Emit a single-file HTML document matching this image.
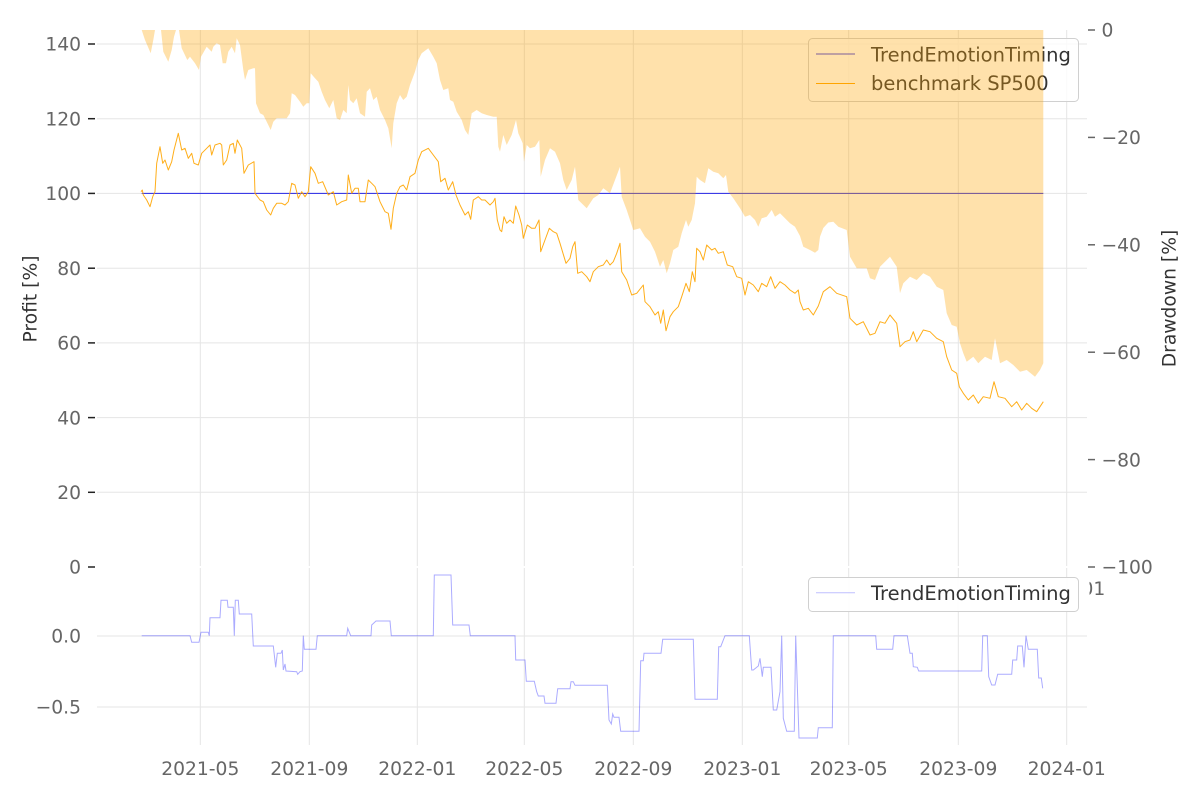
<!DOCTYPE html>
<html><head><meta charset="utf-8"><style>
html,body{margin:0;padding:0;background:#fff;}
svg{display:block;}
text{font-family:"DejaVu Sans","Liberation Sans",sans-serif;font-size:18.7px;}
.tl{fill:#666;}
.al{fill:#333;}
.lg{font-size:19.5px;}
</style></head><body>
<svg width="1200" height="800" viewBox="0 0 1200 800" xmlns="http://www.w3.org/2000/svg">
<rect x="0" y="0" width="1200" height="800" fill="#fff"/>
<defs><clipPath id="c01"><rect x="1089.5" y="570" width="40" height="30"/></clipPath></defs>
<!-- grids top -->
<g stroke="#e5e5e5" stroke-width="1" fill="none">
<line x1="97" x2="1087" y1="44" y2="44"/>
<line x1="97" x2="1087" y1="118.7" y2="118.7"/>
<line x1="97" x2="1087" y1="193.4" y2="193.4"/>
<line x1="97" x2="1087" y1="268.2" y2="268.2"/>
<line x1="97" x2="1087" y1="342.9" y2="342.9"/>
<line x1="97" x2="1087" y1="417.6" y2="417.6"/>
<line x1="97" x2="1087" y1="492.3" y2="492.3"/>
<line x1="200.3" x2="200.3" y1="30" y2="566"/>
<line x1="309.3" x2="309.3" y1="30" y2="566"/>
<line x1="417.3" x2="417.3" y1="30" y2="566"/>
<line x1="524.3" x2="524.3" y1="30" y2="566"/>
<line x1="633.3" x2="633.3" y1="30" y2="566"/>
<line x1="742.3" x2="742.3" y1="30" y2="566"/>
<line x1="848.7" x2="848.7" y1="30" y2="566"/>
<line x1="958.3" x2="958.3" y1="30" y2="566"/>
<line x1="1066.7" x2="1066.7" y1="30" y2="566"/>
<!-- bottom -->
<line x1="97" x2="1087" y1="636" y2="636"/>
<line x1="97" x2="1087" y1="707" y2="707"/>
<line x1="200.3" x2="200.3" y1="568" y2="745"/>
<line x1="309.3" x2="309.3" y1="568" y2="745"/>
<line x1="417.3" x2="417.3" y1="568" y2="745"/>
<line x1="524.3" x2="524.3" y1="568" y2="745"/>
<line x1="633.3" x2="633.3" y1="568" y2="745"/>
<line x1="742.3" x2="742.3" y1="568" y2="745"/>
<line x1="848.7" x2="848.7" y1="568" y2="745"/>
<line x1="958.3" x2="958.3" y1="568" y2="745"/>
<line x1="1066.7" x2="1066.7" y1="568" y2="745"/>
</g>
<!-- left ticks -->
<g stroke="#222" stroke-width="1.5">
<line x1="88" x2="95" y1="44" y2="44"/>
<line x1="88" x2="95" y1="118.7" y2="118.7"/>
<line x1="88" x2="95" y1="193.4" y2="193.4"/>
<line x1="88" x2="95" y1="268.2" y2="268.2"/>
<line x1="88" x2="95" y1="342.9" y2="342.9"/>
<line x1="88" x2="95" y1="417.6" y2="417.6"/>
<line x1="88" x2="95" y1="492.3" y2="492.3"/>
<line x1="88" x2="95" y1="567" y2="567"/>
</g>
<g stroke="#666" stroke-width="1.5">
<line x1="1088" x2="1095" y1="30" y2="30"/>
<line x1="1088" x2="1095" y1="137.4" y2="137.4"/>
<line x1="1088" x2="1095" y1="244.8" y2="244.8"/>
<line x1="1088" x2="1095" y1="352.2" y2="352.2"/>
<line x1="1088" x2="1095" y1="459.6" y2="459.6"/>
<line x1="1088" x2="1095" y1="567" y2="567"/>
</g>
<g class="tl" text-anchor="end">
<text x="81" y="50.7">140</text>
<text x="81" y="125.4">120</text>
<text x="81" y="200.1">100</text>
<text x="81" y="274.9">80</text>
<text x="81" y="349.6">60</text>
<text x="81" y="424.3">40</text>
<text x="81" y="499">20</text>
<text x="81" y="573.7">0</text>
<text x="81" y="642.7">0.0</text>
<text x="81" y="713.7">−0.5</text>
</g>
<g class="tl">
<text x="1101.5" y="36.7">0</text>
<text x="1101.5" y="144.1">−20</text>
<text x="1101.5" y="251.5">−40</text>
<text x="1101.5" y="358.9">−60</text>
<text x="1101.5" y="466.3">−80</text>
<text x="1101.5" y="573.7">−100</text>
<text x="1081.5" y="595" clip-path="url(#c01)">01</text>
</g>
<g class="tl" text-anchor="middle">
<text x="200.3" y="775">2021-05</text>
<text x="309.3" y="775">2021-09</text>
<text x="417.3" y="775">2022-01</text>
<text x="524.3" y="775">2022-05</text>
<text x="633.3" y="775">2022-09</text>
<text x="742.3" y="775">2023-01</text>
<text x="848.7" y="775">2023-05</text>
<text x="958.3" y="775">2023-09</text>
<text x="1066.7" y="775">2024-01</text>
</g>
<text class="al" text-anchor="middle" transform="translate(36.5,299) rotate(-90)">Profit [%]</text>
<text class="al" text-anchor="middle" transform="translate(1175.5,298.5) rotate(-90)">Drawdown [%]</text>

<!-- top series -->
<line x1="141.7" x2="1043.3" y1="193.4" y2="193.4" stroke="#3c3ce6" stroke-width="1.1"/>
<polyline fill="none" stroke="#ffa500" stroke-opacity="0.9" stroke-width="1" stroke-linejoin="round" points="141,191.7 142.3,190 143.3,195 146.7,200 150,206.7 152.7,196.7 155,191.7 156.7,163.3 160,146.7 162.7,163.3 165,160 168.3,170 171.7,161.7 174,150 178.3,133.3 181.7,150 185,148.3 188.3,158.3 191.7,153.3 194,163.3 198.3,165 201.7,153.3 206.7,148.3 210,145 211.7,155 215,145 220,143.3 221.7,145 223.3,165 226.7,160 230,145 233.3,143.3 235,153.3 237.3,140 241.7,148.3 244,173.3 248.3,165 254,161.7 255,193.3 260,200 263.3,201.7 266.7,210 270.7,215 273.3,208.3 276.7,203.3 281.7,203.3 285,205 288.3,201.7 291.7,183.3 295,185 298.3,198.3 301.7,191.7 305,196.7 308.3,191.7 310.7,166.7 315,173.3 318.3,183.3 322.7,181.7 328.3,195 333.3,191.7 336.7,205 341.7,201.7 346.7,200 348.3,175 351.7,193.3 355,188.3 358.3,188.3 360,201.7 365,201.7 368.3,180 371.7,183.3 375,186.7 380,201.7 385,211.7 388.3,213.3 391,229.3 393.3,208.3 396.7,193.3 400,186.7 403.3,185 406.7,190 410,176.7 415,173.3 418.3,160 421.7,151.7 428.3,148.3 433.3,155 438.3,161.7 440.7,181.7 445,178.3 448.3,190 452.7,181.7 456,195 460,205 465,215 468.3,211.7 470.7,219.3 473.3,200 478.3,196.7 481.7,200 485,200 490,205 493.3,201.7 495,198.3 497.3,220 500,230 501.7,231.7 504,216.7 506.7,223.3 510,220 513.3,223.3 515.7,206 519,215 521.7,225 523.3,238.3 527.3,225 531.7,228.3 535,228.3 539,220 540.7,251.7 545,240 549.3,228.3 553.3,231.7 556.7,233.3 560,243.3 564,256.7 566,263.3 570,258.3 572.7,246.7 575,241.7 577.7,273.3 581.7,271.7 586.7,276.7 590,281.7 593.3,271.7 598.3,266.7 603.3,265 606.7,260 610,265 613.3,261.7 616.7,253.3 620,243.3 621.7,271.7 626.7,280 631.7,295 636.7,293.3 643.3,285 645,301.7 650,306.7 655,315 658.3,311.7 660.7,323.3 663.3,310 666,330.7 670,316.7 673.3,311.7 678.3,306.7 681.7,296.7 686,283.3 689.3,291.7 692.3,271.7 695,281.7 696.7,248.3 700,251.7 703.3,260 706.7,245 711.7,250 715,248.3 718.3,253.3 723.3,251.7 727.3,265 732.7,266.7 736.7,276.7 741.7,278.3 745,295 748.3,281.7 753.3,285 758.3,291.7 761.7,283.3 766.7,286.7 770.7,276.7 775,288.3 780,281.7 785,285 790,290 795,293.3 798.3,290 800,301.7 803.3,310 808.3,308.3 813.3,315 818.3,306 823.3,291.7 830,286.7 836.7,293.3 846.7,296.7 850,318.3 856.7,325 863.3,321.7 870,335 875,333.3 880,321.7 885,323.3 890,315 896.7,323.3 900,346.7 905,341.7 910,340 913.3,331.7 916.7,341.7 923.3,330 930,331.7 936.7,338.3 943.3,341.7 946.7,356.7 951.7,370 956.7,373.3 959.3,386.7 963.3,393.3 968.3,400 973.3,395 978.3,403.3 983.3,396.7 990,398.3 994,381.7 998.3,396.7 1005,398.3 1011.7,406.7 1016.7,401.7 1021.7,410 1026.7,403.3 1031.7,408.3 1036.7,411.7 1040,406.7 1043.3,401.7"/>

<!-- top legend -->
<rect x="808.5" y="38.5" width="270" height="63" rx="4" ry="4" fill="#fff" fill-opacity="0.8" stroke="#d0d0d0" stroke-width="1"/>
<line x1="816" x2="855" y1="54" y2="54" stroke="#3c3ce6" stroke-width="1.1"/>
<line x1="816" x2="855" y1="83.5" y2="83.5" stroke="#ffa500" stroke-width="1"/>
<text class="lg" x="871" y="61.3" fill="#333">TrendEmotionTiming</text>
<text class="lg" x="871" y="90" fill="#333">benchmark SP500</text>

<!-- drawdown fill on top -->
<polygon fill="#ffa500" fill-opacity="0.33" points="141.7,30 145,40 150.7,53.3 153.3,40 155,30 161,30 163.3,51.7 168.3,61.7 171.7,50 174,36.7 176,30 179,30 181.7,48.3 187.3,60 190,56.7 195,63.3 199,70 201,56.7 206.7,46.7 211.7,51.7 213.3,46.7 216.7,43.3 220,45 222.7,63.3 226,63.3 228.3,51.7 231.7,46.7 235,53.3 236.7,38.3 240,45 243.3,70 245,80 248.3,70 253.3,68.3 255,68.3 256,103.3 260,113.3 263.3,115 266.7,121.7 270.7,130 273.3,121.7 276.7,118.3 281.7,118.3 286.7,118.3 290,113.3 291.7,93.3 295,95 300,101.7 303.3,106.7 306.7,103.3 309.3,103.3 310.7,73.3 315,78.3 318.3,81.7 321.7,91.7 325,100 329.3,108.3 333.3,100 336.7,118.3 340,120 343.3,110 346.7,113.3 348.3,85 350,100 353.3,103.3 356.7,98.3 360,113.3 365,116.7 366.7,91.7 370,88.3 373.3,100 376.7,96.7 380,110 385,120 388.3,128.3 391.7,148.3 393.3,123.3 396.7,103.3 400,95 403.3,100 406.7,96.7 410,85 415,71.7 418.3,60 421.7,53.3 428.3,48.3 433.3,56.7 436.7,63.3 440,80 443.3,90 448.3,88.3 450,100 453.3,101.7 456.7,111.7 461.7,120 465,130 468.3,135 471.7,113.3 476.7,110 481.7,113.3 486.7,115 493.3,116.7 496.7,116.7 498.3,146.7 500,151.7 503.3,135 506.7,145 511.7,135 516,120 518.3,133.3 522.7,143.3 524,161.7 526.7,145 530,148.3 535,146.7 539.3,140 540.7,176.7 545,160 550,148.3 555,151.7 560,163.3 563.3,180 566.7,190 571.7,180 575,166.7 578.3,200 586.7,208.3 593.3,198.3 598.3,195 603.3,188.3 610,193.3 615,180 620,166.7 621.7,196.7 626.7,210 633.3,230 640,228.3 645,236.7 650,241.7 655,251.7 660,266.7 663.3,260 666.7,273.3 670,263.3 673.3,250 678.3,246.7 681.7,233.3 686,220 688.3,226.7 691.7,220 695,203.3 696.7,176.7 700,180 705,183.3 708.3,168.3 713.3,171.7 718.3,173.3 723.3,178.3 726,175 728.3,191.7 733.3,198.3 740,208.3 745,216.7 750,215 755,220 758.3,226.7 761.7,218.3 766.7,216.7 771.7,210 775,216.7 780,213.3 785,218.3 790,223.3 795,226.7 800,236 803.3,246.7 810,250 815,252.7 818.3,250 820,236.7 823.3,228 828.3,222.5 833.3,221.7 838.3,226.7 846.7,230 850,256.7 856.7,268.3 866.7,268.3 870,278.3 875,280 880,266.7 890,256.7 896.7,266.7 900,293.3 903.3,283.3 910,276.7 916.7,280 923.3,273.3 930,276.7 936.7,286.7 943.3,290 946.7,313.3 951.7,325 956.7,326.7 960,343.3 963.3,353.3 966.7,361.7 973.3,356.7 978.3,363.3 985,356.7 991.7,360 995,338.3 1000,363.3 1006.7,360 1013.3,365 1020,371.7 1026.7,370 1035,376.7 1040,370 1043.3,363.3 1043.3,30"/>

<!-- bottom series -->
<polyline fill="none" stroke="#0000ff" stroke-opacity="0.33" stroke-width="1" points="141.7,635.7 190,635.7 191.7,642.3 199,642.3 201,632.3 208.3,632.3 209.3,635.7 210,617.7 220,617.7 221,600.3 227.3,600.3 228,607.3 233.3,607.3 234.3,635.7 235.3,600.3 238.3,600.3 239.3,614 251.7,614 253.3,646 273.3,646 275.7,667.3 277.3,653.3 281,653.3 282.3,650 283.3,670 285,664 286,671 296.7,671.7 297.7,674.3 300,671.7 302.3,671 303.3,635.7 304.3,649.3 316,649.3 317.3,635.7 346.7,635.7 347.7,628.3 350.7,635.7 371,635.7 371.7,625 376,621 390,621 391.3,635.7 433.3,635.7 434.3,575 451,575 452.7,625 469,625 470.3,635.7 515,635.7 515.7,660 525,660 526.3,681.3 534.3,681.3 536.7,691.7 538.3,696 544,696 545,703.3 556,703.3 557.7,688.7 570,688.7 571,681.7 573.3,681.7 575,685.3 607.3,685.3 609,720 611.3,724 612.7,714 614,717.3 619,717.3 620.7,731.3 639,731.3 640.7,660.7 643.3,660.7 644,653.3 661,653.3 662.7,639.3 693.3,639.3 695,699.3 717.3,699.3 718.7,646.7 720.7,646.7 725,635.7 749.3,635.7 751.7,670 753.3,670 758.3,666 760,658.3 762.3,676.7 763.3,667.3 771,667.3 773.3,710 776.7,710 780,691.7 781.7,635.7 783.3,718.3 786.7,731.3 794.3,731.3 795.7,635.7 799,738 817.3,738 818.3,727.7 832.3,727.7 833.3,635.7 875.7,635.7 876.7,649.3 892.7,649.3 894,635.7 907.3,635.7 910,653.3 912.3,653.3 913.3,666.7 917.3,667.3 918.7,671 981.7,671 982.7,635.7 987.3,635.7 988.7,676.7 991.7,685 995,685 997.7,674.3 1011.7,674.3 1012.7,660 1016.7,660 1017.7,646 1022.3,646 1024,667.3 1026,635.7 1028.3,649.3 1037.3,649.3 1038.7,678 1041.3,678 1042.7,688.3"/>

<!-- bottom legend -->
<rect x="808.5" y="577.5" width="270" height="34" rx="4" ry="4" fill="#fff" fill-opacity="0.9" stroke="#d0d0d0" stroke-width="1"/>
<line x1="816" x2="855" y1="592.7" y2="592.7" stroke="#0000ff" stroke-opacity="0.25" stroke-width="1"/>
<text class="lg" x="871" y="600" fill="#333">TrendEmotionTiming</text>
</svg>
</body></html>
